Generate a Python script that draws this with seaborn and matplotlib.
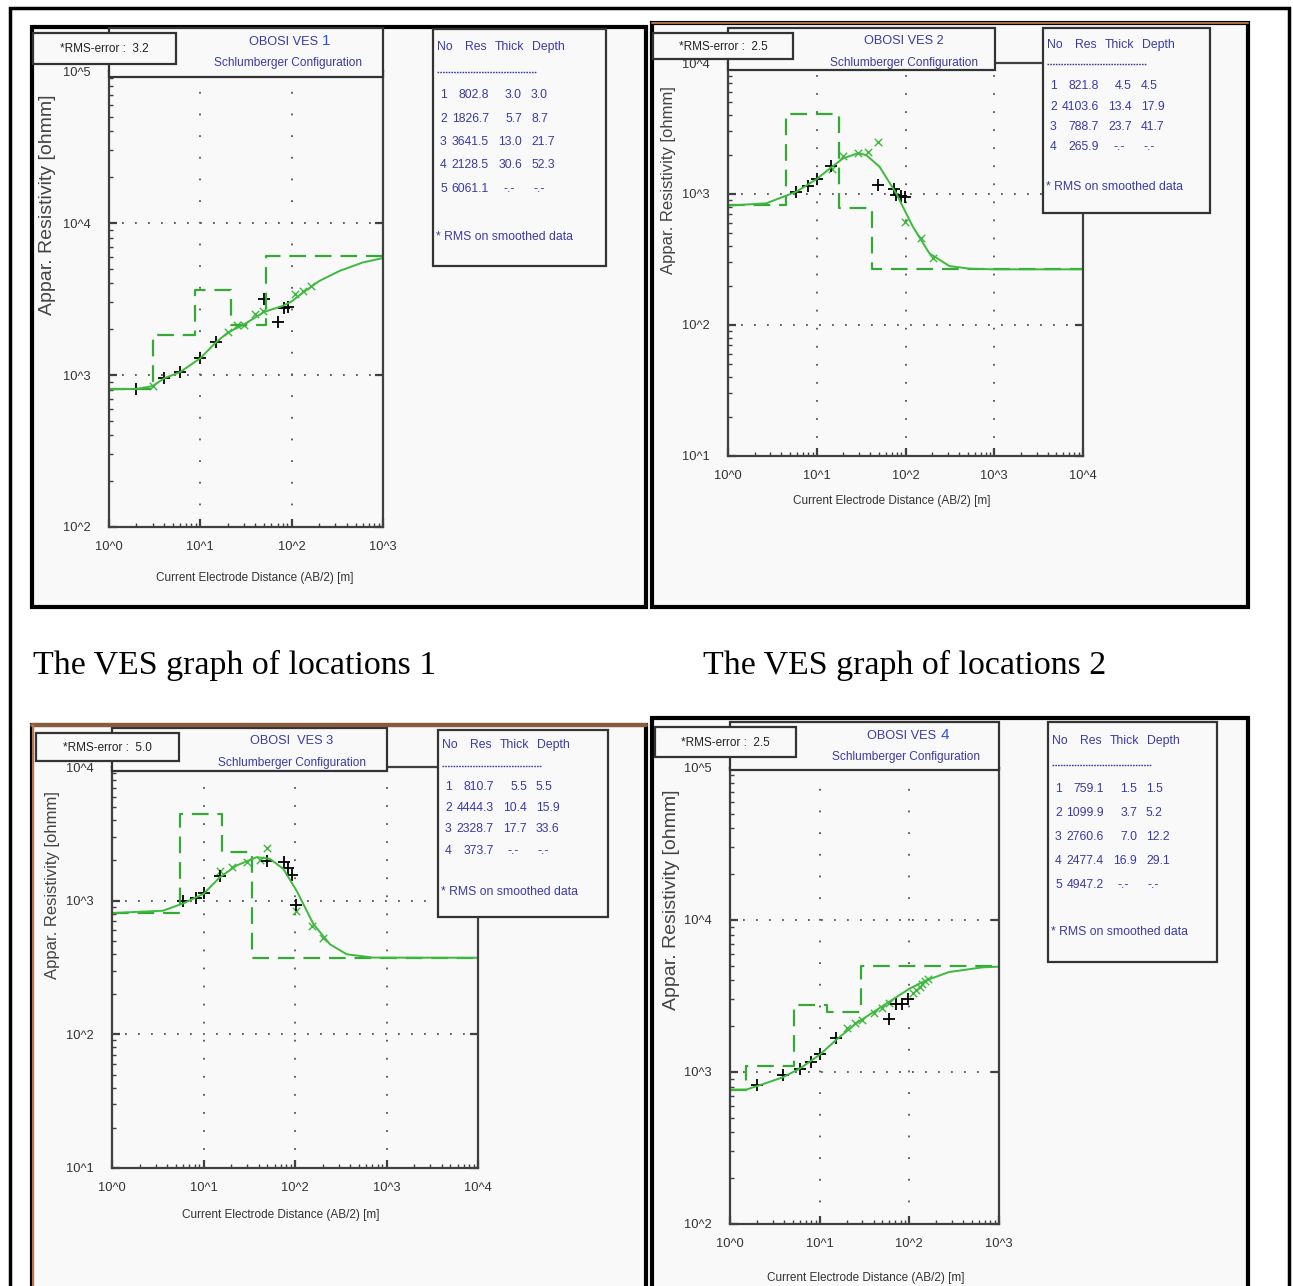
import math
import seaborn as sns
import matplotlib.pyplot as plt
from matplotlib.patches import Rectangle
from matplotlib.lines import Line2D
from matplotlib.ticker import NullFormatter

# ---- layer tables (Res, Thick, Depth) ----
ves1_res = [802.8, 1826.7, 3641.5, 2128.5, 6061.1]
ves1_thick = [3.0, 5.7, 13.0, 30.6]
ves1_depth = [3.0, 8.7, 21.7, 52.3]
ves2_res = [821.8, 4103.6, 788.7, 265.9]
ves2_thick = [4.5, 13.4, 23.7]
ves2_depth = [4.5, 17.9, 41.7]
ves3_res = [810.7, 4444.3, 2328.7, 373.7]
ves3_thick = [5.5, 10.4, 17.7]
ves3_depth = [5.5, 15.9, 33.6]
ves4_res = [759.1, 1099.9, 2760.6, 2477.4, 4947.2]
ves4_thick = [1.5, 3.7, 7.0, 16.9]
ves4_depth = [1.5, 5.2, 12.2, 29.1]
rms_errors = [3.2, 2.5, 5.0, 2.5]

# ---- fitted curves ----
ves1_curve_x = [1, 2, 3, 4, 6, 10, 15, 20, 30, 50, 80, 100, 130, 200, 335, 600, 1000]
ves1_curve_y = [805, 810, 845, 950, 1045, 1290, 1650, 1900, 2150, 2600, 2850, 3050, 3450, 4150, 4840, 5500, 5880]
ves2_curve_x = [1, 2.7, 5.9, 9.9, 14.9, 19.8, 29, 36, 51, 78.5, 121, 186, 312, 525, 1000, 10000]
ves2_curve_y = [815, 849, 1041, 1295, 1615, 1870, 2045, 1985, 1615, 1012, 563, 352, 282, 269, 266, 266]
ves3_curve_x = [1, 3.6, 6.0, 10, 15.1, 23, 38, 53, 74.5, 104, 159, 241, 367, 718, 10000]
ves3_curve_y = [808, 841, 954, 1123, 1497, 1833, 2115, 2058, 1730, 1189, 668, 472, 397, 375, 374]
ves4_curve_x = [1, 1.53, 2.56, 3.9, 6.0, 10, 15.3, 25.6, 42.7, 100, 153, 275, 650, 1000]
ves4_curve_y = [765, 767, 848, 924, 1053, 1298, 1627, 2090, 2550, 3530, 4000, 4540, 4880, 4930]

# ---- field data (+) ----
ves1_obs_x = [2, 4, 6, 10, 15, 50, 70, 82, 92]
ves1_obs_y = [810, 955, 1047, 1290, 1650, 3150, 2230, 2780, 2800]
ves2_obs_x = [5.9, 8.0, 10, 14.6, 48.9, 74, 78.5, 89, 98.5]
ves2_obs_y = [1041, 1157, 1295, 1650, 1171, 1086, 983, 966, 950]
ves3_obs_x = [6, 8.2, 10.1, 15.1, 49.9, 75.9, 83.2, 93.4, 101.6]
ves3_obs_y = [1000, 1048, 1135, 1541, 1973, 1940, 1760, 1567, 928]
ves4_obs_x = [2, 3.9, 6, 8.1, 10, 15.1, 60, 71, 82, 96]
ves4_obs_y = [820, 955, 1053, 1162, 1310, 1670, 2230, 2790, 2790, 3030]

# ---- smoothed data (x) ----
ves1_smooth_x = [3, 20, 25, 30, 40, 48, 108, 133, 163]
ves1_smooth_y = [845, 1925, 2130, 2130, 2510, 2650, 3390, 3570, 3850]
ves2_smooth_x = [14.9, 19.8, 29, 37.8, 48.9, 99.6, 150, 203]
ves2_smooth_y = [1560, 1940, 2060, 2090, 2505, 614, 459, 323]
ves3_smooth_x = [15.1, 20.3, 30.1, 41.4, 50, 101.6, 152, 204]
ves3_smooth_y = [1681, 1780, 1940, 2000, 2490, 831, 649, 530]
ves4_smooth_x = [20, 25, 30, 40, 50, 60, 110, 120, 130, 140, 150, 160]
ves4_smooth_y = [1940, 2100, 2200, 2450, 2650, 2850, 3300, 3450, 3600, 3800, 3950, 4100]

captions = ["The VES graph of locations 1", "The VES graph of locations 2"]

sns.set_style("white")
plt.rcParams["font.family"] = ["Liberation Sans", "DejaVu Sans"]

W, H = 1293, 1286
BG = "#f9f9f9"
BLUE = "#3a3aa6"
BRIGHT = "#2450e6"
GREEN = "#3dba3d"
DGREEN = "#36a836"
GRAY = "#404040"

fig = plt.figure(figsize=(W / 100, H / 100), dpi=100)
fig.patch.set_facecolor("white")


def fx(x):
    return x / W


def fy(y):
    return 1 - y / H


def box(x0, y0, x1, y1, lw=1.5, ec="#333333", fc=BG, z=3):
    fig.add_artist(Rectangle((fx(x0), fy(y1)), (x1 - x0) / W, (y1 - y0) / H,
                             transform=fig.transFigure, lw=lw, ec=ec, fc=fc, zorder=z))


def line(xs, ys, color="black", lw=1.5, z=6, ls="-"):
    fig.add_artist(Line2D([fx(v) for v in xs], [fy(v) for v in ys], transform=fig.transFigure,
                          color=color, lw=lw, zorder=z, ls=ls))


def text(x, y, s, **kw):
    kw.setdefault("zorder", 7)
    fig.text(fx(x), fy(y), s, **kw)


# outer border
box(10, 8, 1289, 1300, lw=2.5, ec="black", fc="none", z=8)

panels = [
    dict(frame=(32, 27, 646, 607), ax=(109, 71, 383, 527), xlim=(1, 1e3), ylim=(1e2, 1e5),
         rms=(33, 33, 176, 64), title=(109, 28, 383, 77), table=(433, 29, 606, 266),
         rows=(47, 72, 95, 23.5, 237), ylab=(48, 205, 14), xlab=(255, 578), xdash=11,
         name="OBOSI VES", num="1", res=ves1_res, thick=ves1_thick, depth=ves1_depth,
         cx=ves1_curve_x, cy=ves1_curve_y, ox=ves1_obs_x, oy=ves1_obs_y,
         sx=ves1_smooth_x, sy=ves1_smooth_y),
    dict(frame=(652, 23, 1248, 607), ax=(728, 63, 1083, 456), xlim=(1, 1e4), ylim=(1e1, 1e4),
         rms=(653, 33, 793, 59), title=(728, 28, 995, 70), table=(1043, 28, 1210, 213),
         rows=(45, 64, 86, 20.5, 187), ylab=(669, 180, 12), xlab=(892, 501), xdash=9,
         name="OBOSI VES 2", num="", res=ves2_res, thick=ves2_thick, depth=ves2_depth,
         cx=ves2_curve_x, cy=ves2_curve_y, ox=ves2_obs_x, oy=ves2_obs_y,
         sx=ves2_smooth_x, sy=ves2_smooth_y),
    dict(frame=(32, 725, 646, 1300), ax=(112, 767, 478, 1168), xlim=(1, 1e4), ylim=(1e1, 1e4),
         rms=(36, 733, 179, 761), title=(112, 728, 387, 771), table=(438, 730, 608, 917),
         rows=(745, 766, 787, 21.2, 892), ylab=(52, 885, 12), xlab=(281, 1215), xdash=9,
         name="OBOSI  VES 3", num="", res=ves3_res, thick=ves3_thick, depth=ves3_depth,
         cx=ves3_curve_x, cy=ves3_curve_y, ox=ves3_obs_x, oy=ves3_obs_y,
         sx=ves3_smooth_x, sy=ves3_smooth_y),
    dict(frame=(652, 718, 1248, 1300), ax=(730, 768, 999, 1224), xlim=(1, 1e3), ylim=(1e2, 1e5),
         rms=(655, 727, 796, 757), title=(730, 722, 999, 770), table=(1048, 722, 1217, 962),
         rows=(741, 765, 789, 24, 932), ylab=(671, 900, 14), xlab=(866, 1278), xdash=11,
         name="OBOSI VES", num="4", res=ves4_res, thick=ves4_thick, depth=ves4_depth,
         cx=ves4_curve_x, cy=ves4_curve_y, ox=ves4_obs_x, oy=ves4_obs_y,
         sx=ves4_smooth_x, sy=ves4_smooth_y),
]

for i, p in enumerate(panels):
    f0, f1, f2, f3 = p["frame"]
    box(f0, f1, f2, f3, lw=3, ec="black", fc=BG, z=-1)
    a0, a1, a2, a3 = p["ax"]
    ax = fig.add_axes([fx(a0), fy(a3), (a2 - a0) / W, (a3 - a1) / H])
    ax.set_facecolor(BG)

    # layered model as a dashed staircase
    step_x = [p["xlim"][0]] + p["depth"] + [p["xlim"][1]]
    step_y = p["res"] + [p["res"][-1]]
    sns.lineplot(x=step_x, y=step_y, ax=ax, color=DGREEN, lw=1.6, drawstyle="steps-post",
                 linestyle=(0, (7.5, 4)), sort=False, estimator=None)
    sns.lineplot(x=p["cx"], y=p["cy"], ax=ax, color=GREEN, lw=1.4, sort=False, estimator=None)
    sns.scatterplot(x=p["sx"], y=p["sy"], ax=ax, marker="x", color=GREEN, s=28, linewidth=1.0)
    sns.scatterplot(x=p["ox"], y=p["oy"], ax=ax, marker="+", color="black", s=80, linewidth=1.3)

    ax.set(xscale="log", yscale="log", xlim=p["xlim"], ylim=p["ylim"], xlabel="", ylabel="")
    xt = [10 ** k for k in range(0, 5) if 10 ** k <= p["xlim"][1]]
    yt = [10 ** k for k in range(1, 6) if p["ylim"][0] <= 10 ** k <= p["ylim"][1]]
    ax.set_xticks(xt)
    ax.set_xticklabels([f"10^{k}" for k in range(len(xt))], fontsize=9.3, color="#333")
    ax.set_yticks(yt)
    k0 = int(round(math.log10(p["ylim"][0])))
    ax.set_yticklabels([f"10^{k0 + j}" for j in range(len(yt))], fontsize=9.3, color="#333")
    ax.xaxis.set_minor_formatter(NullFormatter())
    ax.yaxis.set_minor_formatter(NullFormatter())
    ax.tick_params(which="major", direction="in", length=6, width=1.6, color=GRAY,
                   left=True, right=True, bottom=True, top=False)
    ax.tick_params(axis="x", which="major", pad=10)
    ax.tick_params(axis="y", which="major", pad=13)
    ax.tick_params(which="minor", direction="in", length=3, width=1.0, color=GRAY,
                   left=True, bottom=True, right=False, top=False)
    ax.xaxis.grid(True, which="major", color="#555555", lw=1.3, ls=(0, (1, p["xdash"])))
    ax.yaxis.grid(True, which="major", color="#555555", lw=1.3, ls=(0, (1, 6.2)))
    for s in ax.spines.values():
        s.set_color(GRAY)
        s.set_linewidth(1.6)

    # axis titles
    yx, yy, ys = p["ylab"]
    text(yx, yy, "Appar. Resistivity [ohmm]", rotation=90, ha="center", va="center",
         fontsize=ys, color="#444444")
    text(p["xlab"][0], p["xlab"][1], "Current Electrode Distance (AB/2) [m]", ha="center",
         va="center", fontsize=8.5, color="#333333")

    # rms box
    r0, r1, r2, r3 = p["rms"]
    box(r0, r1, r2, r3, lw=1.6, ec="#333333", z=4)
    text((r0 + r2) / 2, (r1 + r3) / 2 + 1, f"*RMS-error :  {rms_errors[i]:.1f}", ha="center",
         va="center", fontsize=8.5, color="#222222")

    # title box
    t0, t1, t2, t3 = p["title"]
    box(t0, t1, t2, t3, lw=1.6, ec="#333333", z=3)
    tcx = (t0 + t2) / 2 + 42
    if p["num"]:
        text(tcx + 30, t1 + 14, p["name"], ha="right", va="center", fontsize=9.2, color=BLUE)
        text(tcx + 34, t1 + 13, p["num"], ha="left", va="center", fontsize=11, color=BRIGHT)
    else:
        text(tcx, t1 + 13.5, p["name"], ha="center", va="center", fontsize=9.2, color=BLUE)
    text(tcx, t1 + 35, "Schlumberger Configuration", ha="center", va="center",
         fontsize=8.6, color=BLUE)

    # table box
    b0, b1, b2, b3 = p["table"]
    box(b0, b1, b2, b3, lw=1.6, ec="#333333", z=4)
    hy, dy, ry, rs, ny = p["rows"]
    tk = dict(va="center", fontsize=8.8, color=BLUE)
    for off, lab in zip([4, 32, 62, 99], ["No", "Res", "Thick", "Depth"]):
        text(b0 + off, hy, lab, ha="left", **tk)
    line([b0 + 4, b0 + 103], [dy, dy], color=BLUE, lw=1.0, z=6, ls=(0, (1.2, 0.8)))
    for j, res in enumerate(p["res"]):
        y = ry + j * rs
        text(b0 + 7, y, str(j + 1), ha="left", **tk)
        text(b0 + 56, y, f"{res:.1f}", ha="right", **tk)
        if j < len(p["thick"]):
            text(b0 + 89, y, f"{p['thick'][j]:.1f}", ha="right", **tk)
            text(b0 + 98, y, f"{p['depth'][j]:.1f}", ha="left", **tk)
        else:
            text(b0 + 70, y, "-.-", ha="left", **tk)
            text(b0 + 100, y, "-.-", ha="left", **tk)
    text(b0 + 3, ny, "* RMS on smoothed data", ha="left", **tk)

# brownish edges seen on the scanned frames
line([652, 1248], [23, 23], color="#a86a48", lw=1.5, z=7)
line([32, 646], [725, 725], color="#8a5a3c", lw=3, z=7)
line([33, 33], [725, 1290], color="#b8744a", lw=1.5, z=7)

# captions
text(33, 665, captions[0], ha="left", va="center", family="Liberation Serif", fontsize=24.4, color="black")
text(703, 665, captions[1], ha="left", va="center", family="Liberation Serif", fontsize=24.4, color="black")

fig.savefig("out.png", dpi=100, facecolor="white")
